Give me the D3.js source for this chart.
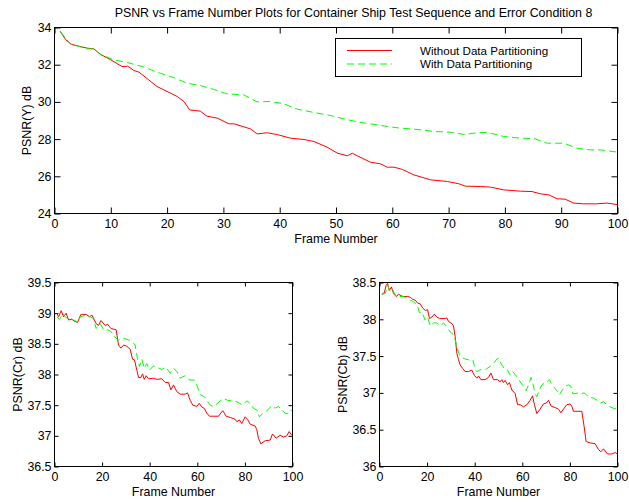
<!DOCTYPE html>
<html><head><meta charset="utf-8">
<script src="https://cdn.jsdelivr.net/npm/d3@7"></script>
<style>body{margin:0;background:#fff}svg{display:block}text{font-family:"Liberation Sans",Arial,sans-serif;fill:#000}</style>
</head><body><svg id="c" width="629" height="502"></svg>
<script>
const titleText = "PSNR vs Frame Number Plots for Container Ship Test Sequence and Error Condition 8";
const legendLabels = ["Without Data Partitioning", "With Data Partitioning"];
const xTicks = [0,10,20,30,40,50,60,70,80,90,100];
const xTicksSmall = [0,20,40,60,80,100];
const yTicksY = [24,26,28,30,32,34];
const yTicksCr = [36.5,37,37.5,38,38.5,39,39.5];
const yTicksCb = [36,36.5,37,37.5,38,38.5];

// PSNR(Y): [frame, dB]
const yWithout = [[1,33.8],[2,33.34],[3,33.09],[5.8,32.89],[7,32.85],[8.2,32.55],[10,32.26],[12,31.9],[13,31.92],[14.1,31.69],[15,31.6],[16.5,31.24],[18.2,30.83],[20,30.56],[21.8,30.29],[23,30.02],[24,29.57],[25.9,29.5],[27.1,29.23],[28.9,29.13],[31,28.82],[31.9,28.82],[34.8,28.55],[36,28.28],[37.8,28.34],[39.6,28.24],[41.9,28.05],[44.3,27.98],[46.1,27.87],[48.4,27.57],[50.2,27.25],[52,27.1],[52.9,27.24],[53.8,27.1],[56.1,26.76],[57.9,26.67],[59.1,26.49],[60.3,26.49],[61.8,26.37],[63.8,26.08],[66.8,25.81],[69.8,25.72],[71.8,25.6],[73,25.47],[75.7,25.45],[77.4,25.42],[79.8,25.27],[82.8,25.2],[84.8,25.18],[86.3,25.06],[87.8,25.0],[89.3,24.79],[90.7,24.77],[92.2,24.56],[94,24.52],[96.3,24.52],[98.1,24.56],[100,24.48]];
const yWith = [[1,33.8],[2.8,33.12],[5.8,32.85],[7,32.85],[8,32.58],[10.5,32.26],[12.9,32.12],[15.9,31.87],[18.2,31.6],[21.2,31.3],[23.6,31.0],[25.9,30.88],[28.3,30.67],[30.7,30.43],[33.6,30.38],[36,30.0],[38.4,30.02],[40.7,29.9],[43.1,29.61],[46.1,29.43],[49,29.27],[51.4,29.09],[54,28.91],[56.1,28.82],[59.1,28.68],[61.4,28.59],[64.4,28.52],[67.4,28.41],[70.3,28.37],[72.7,28.25],[75.1,28.34],[76.9,28.36],[79.8,28.14],[82.8,28.05],[85.2,28.03],[87.5,27.78],[90.5,27.78],[92.8,27.51],[95.2,27.42],[97,27.42],[100,27.3]];

// PSNR(Cr)
const crWithout = [[1,39.0],[1.7,38.94],[2.8,39.04],[3.8,38.94],[4.9,39.0],[5.9,38.89],[7.3,38.9],[8.3,38.87],[9.7,38.85],[11.1,38.98],[13.3,38.98],[14.7,38.94],[15.7,38.97],[17.5,38.83],[18.5,38.8],[19.5,38.88],[21.3,38.8],[22.3,38.82],[23.7,38.75],[25.9,38.73],[26.9,38.48],[27.9,38.43],[29,38.48],[30.4,38.46],[31.8,38.41],[32.8,38.25],[33.6,38.24],[34.6,38.07],[35.3,37.95],[36.3,37.95],[37,38.01],[37.7,37.92],[38.5,37.98],[39.5,37.93],[41.6,37.94],[43,37.92],[45.1,37.93],[46.5,37.87],[47.9,37.87],[48.9,37.75],[50,37.83],[51.4,37.72],[52.8,37.68],[54.9,37.68],[55.9,37.7],[57,37.58],[58.1,37.5],[59.8,37.48],[60.8,37.53],[61.9,37.47],[62.9,37.45],[64,37.37],[65.1,37.32],[68.9,37.32],[70.7,37.41],[72.1,37.32],[73.8,37.3],[75.9,37.27],[76.6,37.23],[77.7,37.26],[78.7,37.2],[80.1,37.31],[81.1,37.27],[82.2,37.19],[84.3,37.16],[85,37.1],[85.7,36.96],[86.7,36.87],[88.5,36.92],[90.6,36.93],[91.6,37.03],[93.1,36.96],[94.8,37.01],[96.2,36.98],[97.6,37.0],[98.6,37.07],[99.7,37.01]];
const crWith = [[1,38.94],[2.1,38.9],[3.5,39.0],[4.5,38.94],[5.9,38.9],[6.9,38.91],[8,38.89],[9.7,38.85],[10.8,38.94],[13.6,38.97],[15,38.94],[16.4,38.91],[17.5,38.75],[19.2,38.83],[20.9,38.71],[22.3,38.73],[23.8,38.7],[24.8,38.63],[26.9,38.56],[29,38.59],[31.4,38.56],[32.1,38.54],[33.2,38.51],[33.9,38.48],[34.9,38.24],[35.7,38.13],[36.7,38.25],[37.7,38.1],[38.8,38.18],[39.9,38.07],[41.6,38.14],[43,38.12],[45.1,38.08],[46.8,38.12],[48.6,38.02],[50,38.1],[51.4,38.05],[52.8,37.94],[54.9,37.98],[56.7,37.91],[58.7,37.91],[59.8,37.83],[61.2,37.67],[62.9,37.64],[64.3,37.56],[65.4,37.5],[66.8,37.48],[68.2,37.52],[69.6,37.57],[71,37.61],[72.7,37.58],[74.5,37.57],[76.3,37.56],[77.7,37.53],[79.1,37.5],[80.8,37.57],[82.2,37.53],[83.6,37.45],[85,37.42],[86.1,37.31],[87.8,37.38],[89.2,37.41],[91.3,37.49],[92.7,37.45],[94.1,37.48],[95.5,37.42],[96.9,37.37],[97.9,37.36],[99,37.42],[100,37.41]];

// PSNR(Cb)
const cbWithout = [[1,38.34],[2,38.36],[2.8,38.46],[3.4,38.49],[4.1,38.39],[5,38.44],[5.9,38.35],[7,38.31],[8,38.34],[9.8,38.31],[11.8,38.31],[12.9,38.3],[14,38.27],[15,38.26],[16,38.22],[17.1,38.21],[18.2,38.15],[19.3,38.12],[20.2,38.13],[21,38.01],[22,38.03],[23,38.07],[24.1,38.03],[25.2,38.01],[27.6,38.01],[28.3,38.02],[29,37.97],[30.4,37.94],[31.1,37.91],[31.8,37.76],[32.5,37.54],[33.2,37.45],[33.9,37.38],[35,37.33],[36,37.29],[37.4,37.29],[38.8,37.31],[39.8,37.24],[40.9,37.2],[41.6,37.23],[42.6,37.18],[44.4,37.18],[45.8,37.21],[46.8,37.27],[47.9,37.18],[49.6,37.18],[50.7,37.15],[51.4,37.18],[52.1,37.14],[52.8,37.17],[53.8,37.11],[54.6,37.14],[55.6,37.04],[57,36.99],[58,36.84],[59.1,36.84],[60.5,36.81],[61.9,36.84],[63.3,36.9],[64.3,36.96],[65.1,36.84],[66.1,36.72],[67.5,36.78],[68.9,36.85],[70,36.86],[71,36.9],[72.1,36.82],[73.8,36.8],[75.2,36.78],[76.2,36.73],[77.3,36.78],[78.7,36.84],[80.1,36.85],[80.8,36.82],[81.5,36.75],[85,36.75],[86,36.54],[86.8,36.34],[88.5,36.32],[90.6,36.31],[92,36.23],[93,36.2],[94.1,36.24],[95.8,36.17],[97.6,36.17],[99,36.19],[100,36.17]];
const cbWith = [[1,38.34],[2.4,38.35],[3.5,38.46],[4.5,38.37],[5.6,38.4],[6.6,38.33],[8,38.31],[10.1,38.31],[11.5,38.28],[13.6,38.25],[15,38.22],[16.1,38.17],[16.8,38.09],[17.8,38.1],[19.2,37.99],[20.2,38.03],[21.3,37.91],[22.7,37.95],[24.1,37.95],[25.5,37.91],[26.9,37.95],[28.3,37.9],[29.7,37.83],[31.1,37.79],[31.8,37.72],[32.5,37.63],[33.6,37.51],[34.6,37.48],[36,37.46],[37.4,37.45],[38.8,37.42],[39.3,37.44],[40.2,37.31],[40.9,37.29],[42,37.31],[43,37.32],[44.4,37.31],[45.1,37.33],[46.5,37.36],[47.9,37.4],[49.3,37.46],[50,37.47],[50.7,37.42],[51.8,37.36],[52.8,37.31],[53.8,37.31],[54.9,37.24],[56,37.29],[57.7,37.22],[59.1,37.15],[60.5,37.09],[61.6,37.03],[62.6,37.11],[63.7,37.21],[64.4,37.13],[65.4,36.99],[66.1,36.95],[67.2,37.04],[68.2,37.11],[69.2,37.13],[70.3,37.15],[71.4,37.18],[72.4,37.11],[73.8,37.06],[74.8,37.02],[75.6,36.97],[76.6,37.03],[78,37.09],[79.4,37.11],[80.4,37.09],[81.2,36.99],[82.2,36.99],[83.6,37.0],[85,36.99],[86,37.0],[87.1,36.97],[88.5,36.94],[89.9,36.93],[91.3,36.9],[92.7,36.86],[94.1,36.88],[95.5,36.84],[96.9,36.81],[98.3,36.79],[100,36.78]];

const svg = d3.select("#c");
const RED = "#ff0000", GREEN = "#00ff00", DASH = "7,4";
const FS = 12.4;

function panel(o) {
  const x = d3.scaleLinear().domain([0,100]).range([o.x0, o.x1]);
  const y = d3.scaleLinear().domain(o.yDomain).range([o.y1, o.y0]);
  const g = svg.append("g");
  const tl = o.tick;
  g.append("g").attr("transform", `translate(0,${o.y1})`)
    .call(d3.axisBottom(x).tickValues(o.xTicks).tickSize(-tl).tickPadding(5.5).tickFormat(d3.format("d")))
    .call(a => a.select(".domain").remove());
  g.append("g").attr("transform", `translate(0,${o.y0})`)
    .call(d3.axisTop(x).tickValues(o.xTicks).tickSize(-tl).tickFormat(""))
    .call(a => a.select(".domain").remove());
  g.append("g").attr("transform", `translate(${o.x0},0)`)
    .call(d3.axisLeft(y).tickValues(o.yTicks).tickSize(-tl).tickPadding(3).tickFormat(d => String(d)))
    .call(a => a.select(".domain").remove());
  g.append("g").attr("transform", `translate(${o.x1},0)`)
    .call(d3.axisRight(y).tickValues(o.yTicks).tickSize(-tl).tickFormat(""))
    .call(a => a.select(".domain").remove());
  g.selectAll(".tick text").attr("font-size", FS).attr("font-family", '"Liberation Sans",Arial,sans-serif').attr("fill","#000");
  g.selectAll(".tick line").attr("stroke","#000");
  const line = d3.line().x(d => x(d[0])).y(d => y(d[1]));
  g.append("path").datum(o.red).attr("d", line).attr("fill","none").attr("stroke",RED).attr("stroke-width",1);
  g.append("path").datum(o.green).attr("d", line).attr("fill","none").attr("stroke",GREEN).attr("stroke-width",1).attr("stroke-dasharray",DASH);
  g.append("rect").attr("x",o.x0).attr("y",o.y0).attr("width",o.x1-o.x0).attr("height",o.y1-o.y0)
    .attr("fill","none").attr("stroke","#000").attr("stroke-width",1);
  g.append("text").attr("x",(o.x0+o.x1)/2).attr("y",o.xlabY).attr("text-anchor","middle").attr("font-size",FS).text("Frame Number");
  g.append("text").attr("transform",`translate(${o.ylabX},${(o.y0+o.y1)/2}) rotate(-90)`).attr("text-anchor","middle").attr("font-size",FS).text(o.ylab);
  return {x, y, g};
}

svg.append("text").attr("x", 353.5).attr("y", 17).attr("text-anchor","middle").attr("font-size",FS).text(titleText);

panel({x0:54.5,x1:617.5,y0:27.5,y1:213.5,yDomain:[24,34],xTicks:xTicks,yTicks:yTicksY,red:yWithout,green:yWith,tick:6,xlabY:243,ylabX:31,ylab:"PSNR(Y) dB"});
panel({x0:54.5,x1:292.5,y0:282.5,y1:466.5,yDomain:[36.5,39.5],xTicks:xTicksSmall,yTicks:yTicksCr,red:crWithout,green:crWith,tick:4,xlabY:496,ylabX:21.5,ylab:"PSNR(Cr) dB"});
panel({x0:379.5,x1:617.5,y0:282.5,y1:466.5,yDomain:[36,38.5],xTicks:xTicksSmall,yTicks:yTicksCb,red:cbWithout,green:cbWith,tick:4,xlabY:496,ylabX:346.5,ylab:"PSNR(Cb) dB"});

// legend
const lg = svg.append("g");
lg.append("rect").attr("x",335.5).attr("y",38.5).attr("width",246).attr("height",38).attr("fill","#fff").attr("stroke","#000");
const colors = [RED, GREEN];
legendLabels.forEach((t,i) => {
  const yy = 50.5 + i*13.5;
  lg.append("line").attr("x1",347).attr("x2",392).attr("y1",yy).attr("y2",yy).attr("stroke",colors[i]).attr("stroke-width",1)
    .attr("stroke-dasharray", i ? DASH : null);
  lg.append("text").attr("x",420).attr("y",yy+4).attr("font-size",11.6).text(t);
});
</script></body></html>
